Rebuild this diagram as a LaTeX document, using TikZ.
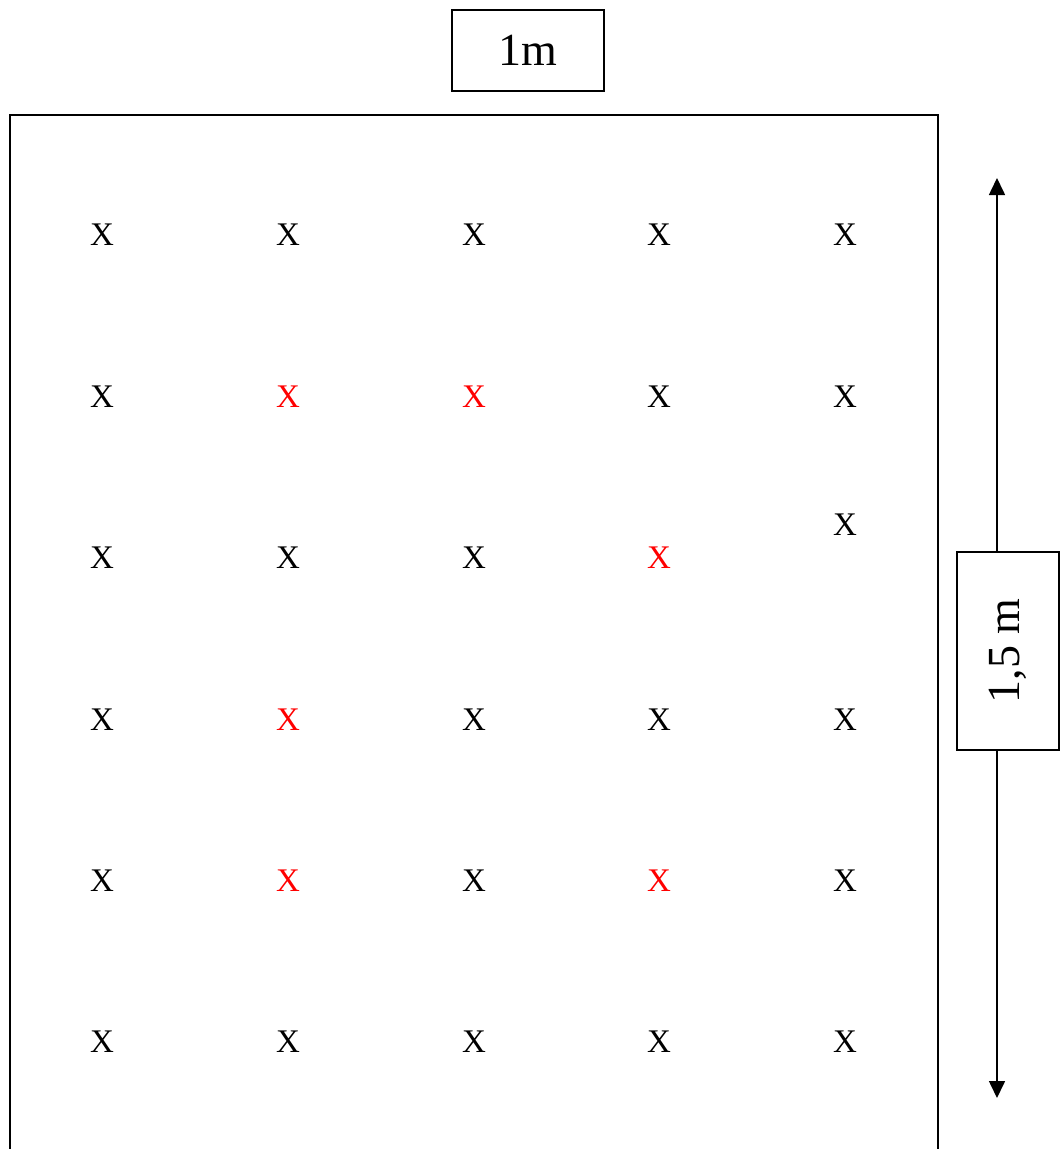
\documentclass[tikz,border=0pt]{standalone}
\usepackage{fontspec}
\setmainfont{Liberation Serif}
\usetikzlibrary{arrows.meta}
\begin{document}
\begin{tikzpicture}[x=1pt,y=-1pt,
  frame/.style={draw=black,line width=1.8pt},
  labelbox/.style={draw=black,line width=1.6pt,inner sep=0pt,font=\fontsize{46}{50}\selectfont},
  xmark/.style={font=\fontsize{33}{36}\selectfont,inner sep=0pt},
  redmark/.style={xmark,text=red},
  dim/.style={line width=1.6pt,-{Triangle[width=16pt,length=17pt]}}]
\useasboundingbox (0,0) rectangle (1061,1149);
% main frame (bottom edge lies outside the picture)
\draw[frame] (10,1149) -- (10,115) -- (938,115) -- (938,1149);
% top label
\node[labelbox,minimum width=152pt,minimum height=81pt] (top) at (528,50.5) {1m};
% side dimension
\node[labelbox,minimum width=102pt,minimum height=198pt] (side) at (1008,651) {\rotatebox{90}{1,5 m}};
\coordinate (uptip) at (997,178);
\coordinate (downtip) at (997,1098);
\draw[dim] (side.north -| uptip) -- (uptip);
\draw[dim] (side.south -| downtip) -- (downtip);
% marks
\foreach \r/\y in {1/235,2/397,3/558,4/720,5/881,6/1042}{
  \foreach \c/\x in {1/102,2/288,3/474,4/659,5/845}{
    \def\sty{xmark}
    \def\yy{\y}
    \ifnum\r=2 \ifnum\c=2 \def\sty{redmark}\fi \ifnum\c=3 \def\sty{redmark}\fi\fi
    \ifnum\r=3 \ifnum\c=4 \def\sty{redmark}\fi \ifnum\c=5 \def\yy{525}\fi\fi
    \ifnum\r=4 \ifnum\c=2 \def\sty{redmark}\fi\fi
    \ifnum\r=5 \ifnum\c=2 \def\sty{redmark}\fi \ifnum\c=4 \def\sty{redmark}\fi\fi
    \node[\sty] (x\r\c) at (\x,\yy) {X};
  }
}
\end{tikzpicture}
\end{document}
